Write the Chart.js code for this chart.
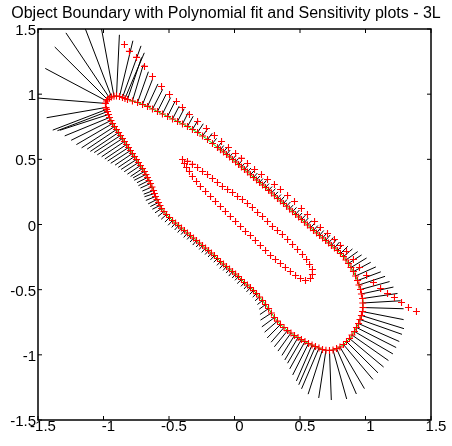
<!DOCTYPE html>
<html><head><meta charset="utf-8">
<script src="https://cdn.jsdelivr.net/npm/chart.js@4.4.1/dist/chart.umd.min.js"></script>
<style>html,body{margin:0;padding:0;background:#fff;}canvas{display:block;}</style>
</head><body>
<canvas id="c" width="452" height="446"></canvas>
<script>
const titleText = "Object Boundary with Polynomial fit and Sensitivity plots - 3L";
const tickValues = [-1.5, -1, -0.5, 0, 0.5, 1, 1.5];
const tickLabels = ["-1.5", "-1", "-0.5", "0", "0.5", "1", "1.5"];

// Object boundary (polynomial fit), closed curve
const boundaryX = [
-0.985,-0.977,-0.969,-0.954,-0.939,-0.920,-0.901,-0.878,-0.855,-0.836,-0.817,
-0.779,-0.740,-0.702,-0.664,-0.626,-0.588,-0.550,-0.511,-0.473,-0.435,-0.397,-0.359,-0.321,-0.282,-0.244,-0.206,-0.168,
-0.130,-0.107,-0.084,-0.061,-0.038,-0.015,0.008,0.031,0.053,0.076,0.099,0.122,0.145,0.168,0.191,0.214,0.237,0.260,0.282,0.305,
0.328,0.351,0.374,0.397,0.420,0.443,0.466,0.489,0.511,0.534,0.557,0.580,0.603,0.626,0.649,0.672,0.695,0.718,0.740,0.763,
0.786,0.809,0.832,0.851,0.870,0.889,0.908,0.924,0.939,0.950,0.962,0.969,0.977,0.979,0.981,0.977,0.969,0.958,0.947,0.931,
0.916,0.897,0.878,0.855,0.832,0.805,0.779,0.752,0.725,0.698,0.672,0.645,0.618,0.592,0.565,0.538,0.511,0.485,0.458,0.431,
0.405,0.378,0.351,0.328,0.305,0.282,0.260,
0.237,0.214,0.191,0.168,0.145,0.122,0.099,0.076,0.053,0.031,0.008,-0.015,-0.038,-0.061,-0.084,-0.107,-0.130,-0.153,-0.176,-0.198,
-0.221,-0.244,-0.267,-0.290,-0.313,-0.336,-0.359,-0.382,-0.405,-0.427,-0.450,-0.473,-0.496,-0.519,-0.538,-0.557,-0.569,-0.580,-0.592,-0.603,-0.611,
-0.618,-0.630,-0.641,-0.653,-0.664,-0.676,-0.687,-0.702,-0.718,-0.733,-0.748,-0.763,-0.779,-0.794,-0.809,-0.824,-0.840,-0.855,-0.870,-0.885,
-0.901,-0.916,-0.931,-0.943,-0.954,-0.962,-0.969,-0.977,-0.981];
const boundaryY = [
0.929,0.948,0.959,0.971,0.979,0.984,0.986,0.982,0.975,0.967,0.959,
0.948,0.936,0.921,0.906,0.886,0.867,0.848,0.829,0.810,0.790,0.771,0.752,0.729,0.706,0.679,0.652,0.622,
0.591,0.574,0.556,0.537,0.518,0.499,0.480,0.460,0.441,0.422,0.403,0.382,0.361,0.342,0.322,0.303,0.284,0.262,0.242,0.221,
0.200,0.180,0.161,0.140,0.119,0.098,0.077,0.058,0.038,0.017,-0.004,-0.025,-0.046,-0.065,-0.084,-0.104,-0.123,-0.142,-0.161,-0.180,
-0.200,-0.223,-0.246,-0.272,-0.299,-0.330,-0.361,-0.395,-0.430,-0.464,-0.499,-0.533,-0.568,-0.602,-0.637,-0.668,-0.698,-0.729,-0.760,-0.790,
-0.821,-0.848,-0.875,-0.898,-0.921,-0.940,-0.952,-0.963,-0.967,-0.965,-0.959,-0.948,-0.936,-0.925,-0.913,-0.898,-0.883,-0.867,-0.852,-0.833,
-0.814,-0.790,-0.767,-0.741,-0.714,-0.679,-0.645,
-0.614,-0.583,-0.556,-0.530,-0.507,-0.484,-0.464,-0.445,-0.422,-0.399,-0.380,-0.361,-0.342,-0.322,-0.303,-0.284,-0.261,-0.238,-0.219,-0.200,
-0.180,-0.161,-0.142,-0.123,-0.104,-0.084,-0.065,-0.046,-0.027,-0.008,0.012,0.031,0.054,0.077,0.100,0.123,0.146,0.169,0.192,0.215,0.238,
0.261,0.288,0.315,0.338,0.361,0.384,0.407,0.430,0.453,0.476,0.499,0.522,0.545,0.568,0.591,0.614,0.637,0.660,0.683,0.706,
0.729,0.752,0.775,0.798,0.821,0.844,0.867,0.883,0.898];
// Sensitivity magnitude at each boundary point (drawn along the outward normal)
const sensitivity = [
0.52,0.53,0.57,0.60,0.57,0.53,0.47,0.44,0.42,0.38,0.34,
0.29,0.25,0.21,0.19,0.17,0.15,0.14,0.13,0.11,0.11,0.10,0.09,0.08,0.08,0.07,0.06,0.05,
0.045,0.04,0.04,0.045,0.04,0.04,0.045,0.04,0.04,0.045,0.04,0.04,0.045,0.04,0.04,0.045,0.04,0.04,0.045,0.04,
0.04,0.045,0.04,0.045,0.04,0.045,0.045,0.04,0.045,0.045,0.045,0.05,0.05,0.05,0.05,0.055,0.055,0.055,0.06,0.06,
0.06,0.08,0.09,0.11,0.12,0.14,0.15,0.17,0.19,0.21,0.23,0.25,0.27,0.29,0.31,0.32,0.34,0.34,0.34,0.34,
0.34,0.34,0.34,0.34,0.35,0.37,0.38,0.39,0.38,0.37,0.36,0.34,0.32,0.30,0.27,0.24,0.21,0.20,0.18,0.17,
0.16,0.15,0.145,0.13,0.12,0.10,0.08,
0.06,0.05,0.045,0.04,0.04,0.045,0.04,0.04,0.045,0.04,0.04,0.045,0.04,0.04,0.045,0.04,0.04,0.045,0.04,0.04,
0.045,0.04,0.04,0.045,0.04,0.04,0.045,0.04,0.045,0.045,0.045,0.05,0.05,0.055,0.06,0.06,0.065,0.07,0.075,0.08,0.08,
0.08,0.08,0.085,0.09,0.09,0.10,0.10,0.11,0.12,0.13,0.14,0.15,0.16,0.18,0.19,0.20,0.21,0.23,0.24,0.26,
0.27,0.30,0.32,0.34,0.37,0.39,0.41,0.44,0.46];

// Outer sample points (upper side)
const outerX = [-0.840,-0.802,-0.748,-0.687,-0.626,-0.557,-0.496,-0.443,-0.397,-0.344,
-0.282,-0.214,-0.153,-0.099,-0.046,0.008,0.053,0.099,0.153,0.206,
0.252,0.305,0.351,0.405,0.458,0.511,0.557,0.611,0.656,0.710,
0.763,0.809,0.855,0.908,0.954,1.008,1.061,1.115,1.168,1.221,
1.275,1.328,1.389];
const outerY = [1.381,1.328,1.282,1.213,1.136,1.059,0.998,0.944,0.898,0.844,
0.790,0.737,0.683,0.637,0.591,0.545,0.507,0.468,0.422,0.384,
0.345,0.307,0.269,0.223,0.177,0.123,0.077,0.023,-0.023,-0.069,
-0.115,-0.161,-0.207,-0.269,-0.330,-0.391,-0.445,-0.491,-0.530,-0.560,
-0.599,-0.637,-0.668];

// Inner loop sample points
const innerX = [-0.397,-0.359,-0.321,-0.282,-0.244,-0.206,-0.168,-0.130,-0.092,-0.053,
-0.015,0.023,0.061,0.099,0.137,0.176,0.214,0.252,0.290,0.328,
0.366,0.405,0.443,0.481,0.519,0.550,0.573,0.595,0.595,0.580,
0.542,0.504,0.466,0.427,0.389,0.351,0.313,0.275,0.237,0.198,
0.160,0.122,0.084,0.046,0.008,-0.031,-0.069,-0.107,-0.145,-0.183,
-0.221,-0.260,-0.290,-0.321,-0.344,-0.366,-0.382];
const innerY = [0.499,0.484,0.461,0.437,0.407,0.384,0.353,0.322,0.292,0.269,
0.246,0.215,0.192,0.161,0.130,0.092,0.061,0.023,-0.015,-0.046,
-0.077,-0.115,-0.153,-0.192,-0.230,-0.269,-0.307,-0.345,-0.384,-0.414,
-0.430,-0.414,-0.391,-0.361,-0.330,-0.299,-0.269,-0.238,-0.200,-0.161,
-0.123,-0.084,-0.054,-0.015,0.023,0.061,0.100,0.138,0.177,0.215,
0.253,0.292,0.330,0.368,0.407,0.437,0.468];

const zip = (xs, ys) => xs.map((x, i) => ({x, y: ys[i]}));

function boundaryLine() {
  const pts = zip(boundaryX, boundaryY);
  pts.push({x: boundaryX[0], y: boundaryY[0]});
  return pts;
}
function sensitivitySegments() {
  const n = boundaryX.length, pts = [];
  for (let i = 0; i < n; i++) {
    const a = (i - 1 + n) % n, b = (i + 1) % n;
    const tx = boundaryX[b] - boundaryX[a], ty = boundaryY[b] - boundaryY[a];
    const len = Math.hypot(tx, ty);
    const nx = -ty / len, ny = tx / len;
    pts.push({x: boundaryX[i], y: boundaryY[i]});
    pts.push({x: boundaryX[i] + nx * sensitivity[i], y: boundaryY[i] + ny * sensitivity[i]});
    pts.push({x: boundaryX[i], y: null});
  }
  return pts;
}

const FONT = '"Liberation Sans", Arial, Helvetica, sans-serif';
Chart.defaults.font.family = FONT;

const framePlugin = {
  id: 'frame',
  afterDatasetsDraw(chart) {
    const {ctx, chartArea: a, scales} = chart;
    ctx.save();
    ctx.strokeStyle = '#000';
    ctx.lineWidth = 1;
    ctx.beginPath();
    tickValues.forEach(v => {
      const px = scales.x.getPixelForValue(v);
      ctx.moveTo(px, a.bottom); ctx.lineTo(px, a.bottom - 4);
      ctx.moveTo(px, a.top); ctx.lineTo(px, a.top + 4);
      const py = scales.y.getPixelForValue(v);
      ctx.moveTo(a.left, py); ctx.lineTo(a.left + 4, py);
      ctx.moveTo(a.right, py); ctx.lineTo(a.right - 4, py);
    });
    ctx.stroke();
    ctx.lineWidth = 1.5;
    ctx.strokeRect(a.left, a.top, a.right - a.left, a.bottom - a.top);
    ctx.restore();
  }
};

const markerStyle = {
  showLine: false, pointStyle: 'cross', pointRadius: 3.5,
  pointBorderColor: '#ff0000', pointBorderWidth: 1.1, pointBackgroundColor: '#ff0000'
};

new Chart(document.getElementById('c'), {
  type: 'scatter',
  data: {
    datasets: [
      Object.assign({label: 'boundary points', data: zip(boundaryX, boundaryY), order: 1}, markerStyle),
      Object.assign({label: 'outer points', data: zip(outerX, outerY), order: 1}, markerStyle),
      Object.assign({label: 'inner points', data: zip(innerX, innerY), order: 1}, markerStyle),
      {label: 'sensitivity', data: sensitivitySegments(), showLine: true, spanGaps: false,
       borderColor: '#000', borderWidth: 1, pointRadius: 0, order: 3},
      {label: 'polynomial fit', data: boundaryLine(), showLine: true,
       borderColor: '#00e000', borderWidth: 1, pointRadius: 0, order: 4}
    ]
  },
  options: {
    responsive: false, animation: false, events: [],
    layout: {padding: 0},
    plugins: {
      legend: {display: false}, tooltip: {enabled: false},
      title: {display: true, text: titleText, color: '#000',
        font: {family: FONT, size: 16, weight: 'normal'},
        padding: {top: 4.2, bottom: 5.6}}
    },
    scales: {
      x: {type: 'linear', position: 'bottom', min: -1.5, max: 1.5,
        grid: {display: false, drawTicks: false}, border: {display: false},
        ticks: {stepSize: 0.5, color: '#000', font: {size: 15}, padding: -2, labelOffset: 5,
          maxRotation: 0, autoSkip: false,
          callback: (v) => { const i = tickValues.indexOf(v); return i >= 0 ? tickLabels[i] : ''; }},
        afterFit: (s) => { s.height = 26; }},
      y: {type: 'linear', position: 'left', min: -1.5, max: 1.5,
        grid: {display: false, drawTicks: false}, border: {display: false},
        ticks: {stepSize: 0.5, color: '#000', font: {size: 15}, padding: 2, labelOffset: 2,
          autoSkip: false,
          callback: (v) => { const i = tickValues.indexOf(v); return i >= 0 ? tickLabels[i] : ''; }},
        afterFit: (s) => { s.width = 38; }},
      y2: {type: 'linear', position: 'right', display: true,
        grid: {display: false, drawTicks: false}, border: {display: false},
        ticks: {display: false},
        afterFit: (s) => { s.width = 21; }}
    }
  },
  plugins: [framePlugin]
});
</script>
</body></html>
